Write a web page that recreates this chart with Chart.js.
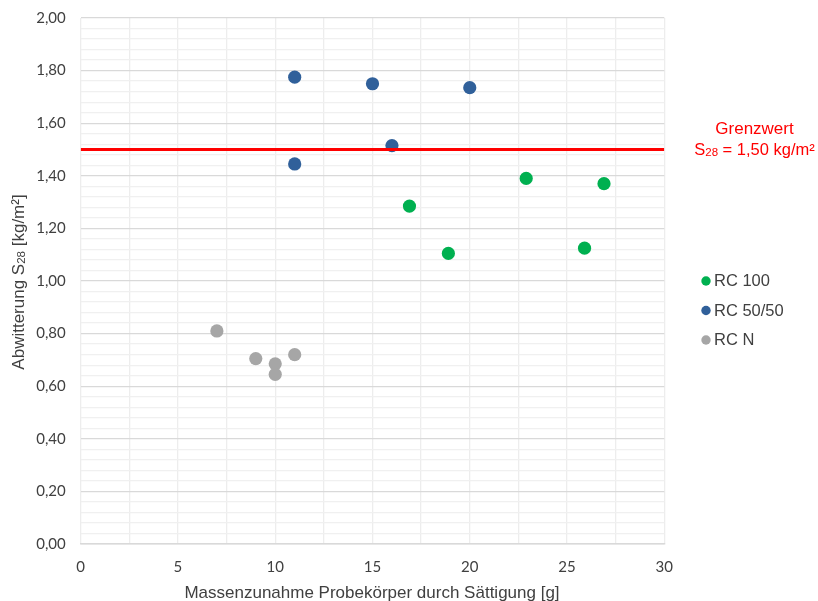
<!DOCTYPE html>
<html>
<head>
<meta charset="utf-8">
<script src="https://cdn.jsdelivr.net/npm/chart.js@4"></script>
<style>
  html, body { margin: 0; padding: 0; background: #ffffff; }
  #wrap { width: 818px; height: 601px; }
</style>
</head>
<body>
<div id="wrap"><canvas id="chart" width="818" height="601"></canvas></div>
<script>
// Series (x = Massenzunahme [g], y = Abwitterung S28 [kg/m²])
const seriesNames = ['RC 100', 'RC 50/50', 'RC N'];
const rc100X  = [16.9, 18.9, 22.9, 25.9, 26.9];
const rc100Y  = [1.285, 1.105, 1.39, 1.125, 1.37];
const rc5050X = [11, 11, 15, 16, 20];
const rc5050Y = [1.775, 1.445, 1.75, 1.515, 1.735];
const rcNX    = [7, 9, 10, 10, 11];
const rcNY    = [0.81, 0.705, 0.685, 0.645, 0.72];

// Limit value line
const limitValue = 1.50;
const limitRange = [0, 30];

// Axis ranges
const xRange = [0, 30];
const yRange = [0, 2];

const seriesColors = ['#00b050', '#30609a', '#a6a6a6'];
const textColor = '#404040';
const labelFont = '"Liberation Sans", Arial, sans-serif';
const tickFont = 'Lato, "Liberation Sans", sans-serif';

const toPoints = (xs, ys) => xs.map((x, i) => ({ x: x, y: ys[i] }));
const fmtComma = v => v.toFixed(2).replace('.', ',');

const scatterDatasets = [
  toPoints(rc100X, rc100Y),
  toPoints(rc5050X, rc5050Y),
  toPoints(rcNX, rcNY)
].map((pts, i) => ({
  type: 'scatter',
  label: seriesNames[i],
  data: pts,
  backgroundColor: seriesColors[i],
  borderWidth: 0,
  pointRadius: 6.6,
  pointHoverRadius: 6.6,
  order: 1
}));

const limitDataset = {
  type: 'line',
  label: 'Grenzwert',
  data: limitRange.map(x => ({ x: x, y: limitValue })),
  borderColor: '#ff0000',
  borderWidth: 3,
  pointRadius: 0,
  pointHoverRadius: 0,
  fill: false,
  order: 0
};

// Axis titles, limit annotation and the legend
const annotations = {
  id: 'annotations',
  afterDraw(chart) {
    const ctx = chart.ctx;
    const area = chart.chartArea;
    ctx.save();

    // x title
    ctx.fillStyle = textColor;
    ctx.font = '17px ' + labelFont;
    ctx.textAlign = 'center';
    ctx.textBaseline = 'middle';
    ctx.fillText('Massenzunahme Probekörper durch Sättigung [g]', (area.left + area.right) / 2 - 0.5, 593);

    // text with a subscript, centred on x
    function subText(parts, x, y) {
      ctx.textAlign = 'left';
      let total = 0;
      parts.forEach(p => { ctx.font = p.size + 'px ' + labelFont; total += ctx.measureText(p.t).width; });
      let cx = x - total / 2;
      parts.forEach(p => {
        ctx.font = p.size + 'px ' + labelFont;
        ctx.fillText(p.t, cx, y + (p.dy || 0));
        cx += ctx.measureText(p.t).width;
      });
    }

    // y title (rotated)
    ctx.save();
    ctx.translate(19, (area.top + area.bottom) / 2 + 1);
    ctx.rotate(-Math.PI / 2);
    ctx.fillStyle = textColor;
    ctx.textBaseline = 'middle';
    subText([
      { t: 'Abwitterung S', size: 17 },
      { t: '28', size: 11.5, dy: 3 },
      { t: ' [kg/m²]', size: 17 }
    ], 0, 0);
    ctx.restore();

    // limit annotation
    ctx.fillStyle = '#ff0000';
    ctx.textBaseline = 'middle';
    ctx.font = '17px ' + labelFont;
    ctx.textAlign = 'center';
    ctx.fillText('Grenzwert', 754.5, 129);
    subText([
      { t: 'S', size: 16.5 },
      { t: '28', size: 11.5, dy: 3 },
      { t: ' = 1,50 kg/m²', size: 16.5 }
    ], 754.5, 150);

    // legend
    const legendY = [281, 310.5, 340];
    scatterDatasets.forEach((ds, i) => {
      ctx.fillStyle = ds.backgroundColor;
      ctx.beginPath();
      ctx.arc(706, legendY[i], 4.7, 0, Math.PI * 2);
      ctx.fill();
      ctx.fillStyle = textColor;
      ctx.font = '16.5px ' + labelFont;
      ctx.textAlign = 'left';
      ctx.textBaseline = 'middle';
      ctx.fillText(ds.label, 714, legendY[i] + 0.5);
    });

    ctx.restore();
  }
};

new Chart(document.getElementById('chart'), {
  type: 'scatter',
  data: { datasets: [limitDataset].concat(scatterDatasets) },
  options: {
    responsive: false,
    animation: false,
    devicePixelRatio: 1,
    layout: { padding: { top: 18, right: 153.7, bottom: 0, left: 0 } },
    plugins: {
      legend: { display: false },
      tooltip: { enabled: false },
      title: { display: false }
    },
    scales: {
      x: {
        type: 'linear',
        min: xRange[0],
        max: xRange[1],
        afterFit(scale) {
          scale.height = 57;
          scale.paddingLeft = 0;
          scale.paddingRight = 0;
        },
        ticks: {
          stepSize: 2.5,
          autoSkip: false,
          maxRotation: 0,
          padding: 14,
          color: textColor,
          font: { family: tickFont, size: 15 },
          callback: v => (Math.abs(v % 5) < 1e-9 ? String(v) : '')
        },
        grid: { color: '#ededed', lineWidth: 1.3, drawTicks: false },
        border: { display: true, color: '#d9d9d9', width: 1.5 }
      },
      y: {
        type: 'linear',
        min: yRange[0],
        max: yRange[1],
        afterFit(scale) {
          scale.width = 80.7;
          scale.paddingTop = 0;
          scale.paddingBottom = 0;
        },
        ticks: {
          stepSize: 0.04,
          autoSkip: false,
          maxTicksLimit: 100,
          padding: 15,
          color: textColor,
          font: { family: tickFont, size: 15 },
          callback: v => (Math.round(v * 100) % 20 === 0 ? fmtComma(v) : '')
        },
        grid: {
          drawTicks: false,
          lineWidth: 1.3,
          color: c => (Math.round(c.tick.value * 100) % 20 === 0 ? '#d9d9d9' : '#f0f0f0')
        },
        border: { display: false }
      }
    }
  },
  plugins: [annotations]
});
</script>
</body>
</html>
